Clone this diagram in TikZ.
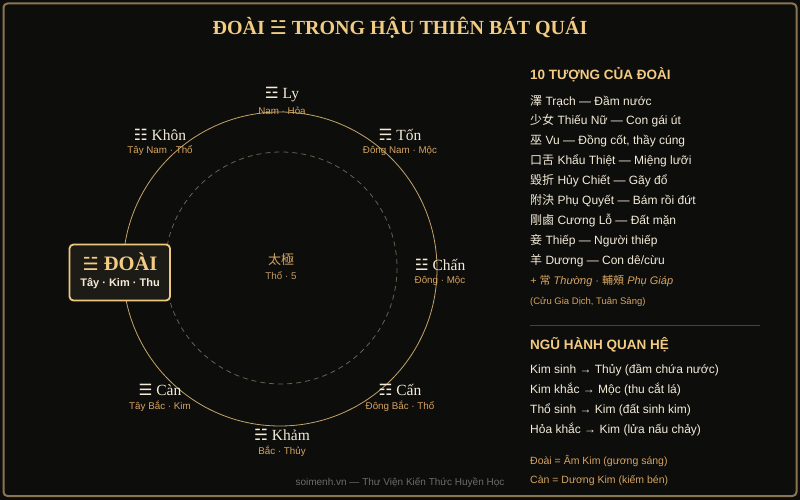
\documentclass[tikz,border=0pt]{standalone}
\usepackage{fontspec}
\setmainfont{Liberation Serif}
\setsansfont{Liberation Sans}
\newfontfamily\symfont{DejaVu Sans}
\newfontfamily\cjk{Noto Sans CJK TC}
\definecolor{bgdark}{HTML}{0D0D0B}
\definecolor{framebrown}{HTML}{8A7550}
\definecolor{gold}{HTML}{F2CC82}
\definecolor{cream}{HTML}{F4EBD8}
\definecolor{ochre}{HTML}{D6A460}
\definecolor{ringgold}{HTML}{C4A46A}
\definecolor{dashgrey}{HTML}{6A6050}
\definecolor{boxfill}{HTML}{1D1B16}
\definecolor{footgrey}{HTML}{6C6C6C}
\definecolor{seplin}{HTML}{4A4232}
\newcommand{\gua}[1]{{\symfont\fontsize{15.5}{15.5}\selectfont #1}}
\tikzset{
  guaname/.style={font=\fontsize{15.5}{15.5}\selectfont, text=cream, inner sep=0pt},
  guasub/.style={font=\sffamily\fontsize{9.8}{9.8}\selectfont, text=ochre, inner sep=0pt},
  panelhead/.style={anchor=west, font=\sffamily\bfseries\fontsize{13.5}{13.5}\selectfont, text=gold, inner sep=0pt},
  panelline/.style={anchor=west, font=\sffamily\fontsize{12}{12}\selectfont, text=cream, inner sep=0pt},
  panelnote/.style={anchor=west, font=\sffamily\fontsize{10.5}{10.5}\selectfont, text=ochre, inner sep=0pt},
}

\begin{document}
\begin{tikzpicture}[x=1pt, y=-1pt]
		%%%%% START %%%%%
		\useasboundingbox (0, 0) rectangle (800, 500);
		\fill[black!95] (0, 0) rectangle (800, 500);
		\draw[fill=bgdark, draw=framebrown, line width=2, rounded corners=4] (3.5, 3.5) rectangle (796.5, 496);
		
		\node[font=\bfseries\fontsize{20}{20}\selectfont, text=gold] (title) at (400, 28)
		  {ĐOÀI {\symfont\fontsize{19}{19}\selectfont ☱} TRONG HẬU THIÊN BÁT QUÁI};
		
		% vong bat quai
		\draw[ringgold, line width=0.8] (280, 269) circle (157);
		\draw[dashgrey, line width=0.8, dash pattern=on 5pt off 4pt] (281, 268) circle (116);
		
		\node[font=\cjk\fontsize{13}{13}\selectfont, text=ochre, inner sep=0pt] (taiji) at (281, 260) {太極};
		\node[guasub, text=ochre!75!gray] (taijisub) at (281, 276) {Thổ · 5};
		
		\node[guaname] (ly) at (282, 95) {\gua{☲} Ly};
		\node[guasub] (lysub) at (282, 111) {Nam · Hỏa};
		\node[guaname] (khon) at (160, 135) {\gua{☷} Khôn};
		\node[guasub] (khonsub) at (160, 151) {Tây Nam · Thổ};
		\node[guaname] (ton) at (400, 135) {\gua{☴} Tốn};
		\node[guasub] (tonsub) at (400, 151) {Đông Nam · Mộc};
		\node[guaname] (chan) at (440, 265) {\gua{☳} Chấn};
		\node[guasub] (chansub) at (440, 281) {Đông · Mộc};
		\node[guaname] (cangen) at (400, 390) {\gua{☶} Cấn};
		\node[guasub] (cangensub) at (400, 406) {Đông Bắc · Thổ};
		\node[guaname] (kham) at (282, 435) {\gua{☵} Khảm};
		\node[guasub] (khamsub) at (282, 451) {Bắc · Thủy};
		\node[guaname] (canqian) at (160, 390) {\gua{☰} Càn};
		\node[guasub] (canqiansub) at (160, 406) {Tây Bắc · Kim};
		
		% doai noi bat
		\draw[fill=boxfill, draw=gold!90!ochre, line width=1.8, rounded corners=4] (69.5, 244.5) rectangle (170, 300.5);
		\node[font=\bfseries\fontsize{20.5}{20.5}\selectfont, text=gold, inner sep=0pt] (doai) at (120, 262)
		  {{\symfont\fontsize{18}{18}\selectfont ☱} ĐOÀI};
		\node[font=\sffamily\bfseries\fontsize{11}{11}\selectfont, text=cream, inner sep=0pt] (doaisub) at (120, 284) {Tây · Kim · Thu};
		
		% bang ben phai
		\node[panelhead] (hd1) at (530, 75) {10 TƯỢNG CỦA ĐOÀI};
		\node[panelline] (t1) at (530, 101) {{\cjk 澤} Trạch — Đầm nước};
		\node[panelline] (t2) at (530, 121) {{\cjk 少女} Thiếu Nữ — Con gái út};
		\node[panelline] (t3) at (530, 141) {{\cjk 巫} Vu — Đồng cốt, thầy cúng};
		\node[panelline] (t4) at (530, 161) {{\cjk 口舌} Khẩu Thiệt — Miệng lưỡi};
		\node[panelline] (t5) at (530, 181) {{\cjk 毀折} Hủy Chiết — Gãy đổ};
		\node[panelline] (t6) at (530, 201) {{\cjk 附決} Phụ Quyết — Bám rồi đứt};
		\node[panelline] (t7) at (530, 221) {{\cjk 剛鹵} Cương Lỗ — Đất mặn};
		\node[panelline] (t8) at (530, 241) {{\cjk 妾} Thiếp — Người thiếp};
		\node[panelline] (t9) at (530, 261) {{\cjk 羊} Dương — Con dê/cừu};
		\node[panelnote, font=\sffamily\itshape\fontsize{11}{11}\selectfont] (t10) at (530, 281)
		  {+ {\cjk 常} Thường · {\cjk 輔頰} Phụ Giáp};
		\node[panelnote, font=\sffamily\fontsize{9.5}{9.5}\selectfont] (src) at (530, 302) {(Cửu Gia Dịch, Tuân Sảng)};
		
		\draw[seplin, line width=1] (530, 325) -- (760, 325);
		
		\node[panelhead] (hd2) at (530, 345) {NGŨ HÀNH QUAN HỆ};
		\node[panelline] (r1) at (530, 370) {Kim sinh → Thủy (đầm chứa nước)};
		\node[panelline] (r2) at (530, 390) {Kim khắc → Mộc (thu cắt lá)};
		\node[panelline] (r3) at (530, 410) {Thổ sinh → Kim (đất sinh kim)};
		\node[panelline] (r4) at (530, 430) {Hỏa khắc → Kim (lửa nấu chảy)};
		\node[panelnote] (n1) at (530, 461) {Đoài = Âm Kim (gương sáng)};
		\node[panelnote] (n2) at (530, 481) {Càn = Dương Kim (kiếm bén)};
		
		\node[font=\sffamily\fontsize{10}{10}\selectfont, text=footgrey, inner sep=0pt] (foot) at (400, 483)
		  {soimenh.vn — Thư Viện Kiến Thức Huyền Học};
		%%%%% END %%%%%
\end{tikzpicture}
\end{document}
